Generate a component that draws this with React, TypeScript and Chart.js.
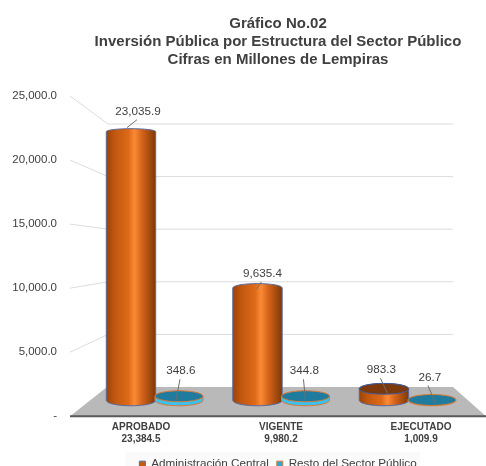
import React, { useEffect, useRef } from "react";
import { Chart, registerables } from "chart.js";

Chart.register(...registerables);

const titleLines = [
  "Gráfico No.02",
  "Inversión Pública por Estructura del Sector Público",
  "Cifras en Millones de Lempiras",
];
const categories = ["APROBADO", "VIGENTE", "EJECUTADO"];
const totals = ["23,384.5", "9,980.2", "1,009.9"];
const groupIndex = [0, 1, 2];
const adminCentral = [23035.9, 9635.4, 983.3];
const restoSector = [348.6, 344.8, 26.7];
const seriesNames = ["Administración Central", "Resto del Sector Público"];
const wallTicks = [5000, 10000, 15000, 20000, 25000];

const FONT = "'Liberation Sans', Arial, sans-serif";
const TEXT = "#404040";

// label placement relative to each bar's top: [text dx, text dy, leader start dx, dy, leader end dx, dy]
const leaderOffsets = [
  [
    [7, -20, 6, -12, -4, -4],
    [5, -14, 4, -6, -1, 1],
    [-2.5, -19.5, -3.5, -10.5, 3.5, 4.5],
  ],
  [
    [2, -25, 1, -17, -3, 4],
    [-1, -25, -2, -17, 0, 4],
    [-2, -22.5, -4, -14.5, 4, 4.5],
  ],
];

function fmt(v: number) {
  return v.toLocaleString("en-US", { minimumFractionDigits: 1, maximumFractionDigits: 1 });
}

function ellipse(ctx: CanvasRenderingContext2D, x: number, y: number, rx: number, ry: number) {
  ctx.beginPath();
  ctx.ellipse(x, y, rx, ry, 0, 0, Math.PI * 2);
}

const scene = {
  id: "scene",
  afterLayout(chart: any) {
    chart.titleBlock.left = chart.chartArea.left;
    chart.titleBlock.right = chart.chartArea.right;
    chart.legend.left = 70;
    chart.legend.right = 486;
  },
  beforeDraw(chart: any) {
    const ctx = chart.ctx;
    ctx.save();
    ctx.fillStyle = "#fafafa";
    ctx.fillRect(125, 452, 295, 20);
    ctx.restore();
  },
  beforeDatasetsDraw(chart: any) {
    const { ctx, chartArea: a } = chart;
    const y = chart.scales.y;
    const floorBack = 387;
    const floorFront = y.getPixelForValue(0);
    const backTop = 124;
    const kWall = (floorBack - backTop) / (floorFront - y.getPixelForValue(25000));
    ctx.save();
    ctx.strokeStyle = "#dcdcdc";
    ctx.lineWidth = 1;
    wallTicks.forEach((v) => {
      const fy = y.getPixelForValue(v);
      const by = floorBack - (floorFront - fy) * kWall;
      ctx.beginPath();
      ctx.moveTo(a.left, fy);
      ctx.lineTo(108, by);
      ctx.lineTo(453, by);
      ctx.stroke();
    });
    ctx.fillStyle = "#b9b9b9";
    ctx.beginPath();
    ctx.moveTo(a.left, floorFront);
    ctx.lineTo(107, floorBack);
    ctx.lineTo(453, floorBack);
    ctx.lineTo(a.right, floorFront);
    ctx.closePath();
    ctx.fill();
    ctx.strokeStyle = "#5a5a5a";
    ctx.lineWidth = 2;
    ctx.beginPath();
    ctx.moveTo(a.left, floorFront);
    ctx.lineTo(a.right, floorFront);
    ctx.stroke();
    ctx.restore();
  },
  afterDatasetsDraw(chart: any) {
    const ctx: CanvasRenderingContext2D = chart.ctx;
    ctx.save();
    chart.data.datasets.forEach((ds: any, d: number) => {
      chart.getDatasetMeta(d).data.forEach((el: any, i: number) => {
        const value = ds.data[i].y;
        const rx = d === 0 ? 24.7 : 24;
        const cx = el.x;
        const topY = el.y;
        const baseY = el.base;
        const ryBase = 5.5;
        const ryTop = Math.max(3, 5.5 - value * 0.00012);
        if (d === 0) {
          const g = ctx.createLinearGradient(cx - rx, 0, cx + rx, 0);
          g.addColorStop(0, "#9c4408");
          g.addColorStop(0.18, "#c25810");
          g.addColorStop(0.45, "#de6a18");
          g.addColorStop(0.57, "#fb8a36");
          g.addColorStop(0.72, "#d6641a");
          g.addColorStop(1, "#7e3908");
          ctx.fillStyle = g;
          ctx.beginPath();
          ctx.moveTo(cx - rx, topY);
          ctx.lineTo(cx - rx, baseY);
          ctx.ellipse(cx, baseY, rx, ryBase, 0, Math.PI, 0, true);
          ctx.lineTo(cx + rx, topY);
          ctx.ellipse(cx, topY, rx, ryTop, 0, 0, Math.PI, true);
          ctx.closePath();
          ctx.fill();
          ctx.strokeStyle = "#5a6a9c";
          ctx.lineWidth = 1;
          ctx.stroke();
          if (value < 5000) {
            ctx.fillStyle = "#7c3a0c";
            ellipse(ctx, cx, topY, rx, ryTop);
            ctx.fill();
            ctx.strokeStyle = "#3c5aa0";
            ctx.stroke();
          }
        } else {
          ctx.strokeStyle = "#d97a35";
          ctx.lineWidth = 1;
          ctx.fillStyle = "#3cc0ee";
          ctx.beginPath();
          ctx.moveTo(cx - rx, topY);
          ctx.lineTo(cx - rx, baseY);
          ctx.ellipse(cx, baseY, rx, ryBase, 0, Math.PI, 0, true);
          ctx.lineTo(cx + rx, topY);
          ctx.closePath();
          ctx.fill();
          ctx.stroke();
          ctx.fillStyle = "#1f7c9e";
          ellipse(ctx, cx, topY, rx, ryBase);
          ctx.fill();
          ctx.stroke();
        }
      });
    });
    ctx.font = `11.7px ${FONT}`;
    ctx.textAlign = "center";
    ctx.textBaseline = "middle";
    chart.data.datasets.forEach((ds: any, d: number) => {
      chart.getDatasetMeta(d).data.forEach((el: any, i: number) => {
        const [tx, ty, sx, sy, ex, ey] = leaderOffsets[d][i];
        ctx.strokeStyle = "#6e6e6e";
        ctx.lineWidth = 1;
        ctx.beginPath();
        ctx.moveTo(el.x + sx, el.y + sy);
        ctx.lineTo(el.x + ex, el.y + ey);
        ctx.stroke();
        ctx.fillStyle = TEXT;
        ctx.fillText(fmt(ds.data[i].y), el.x + tx, el.y + ty);
      });
    });
    ctx.restore();
  },
};

export default function App() {
  const ref = useRef<HTMLCanvasElement>(null);
  useEffect(() => {
    const chart = new Chart(ref.current as HTMLCanvasElement, {
      type: "bar",
      data: {
        datasets: [
          {
            label: seriesNames[0],
            data: groupIndex.map((x, i) => ({ x, y: adminCentral[i] })),
            backgroundColor: "#c55a11",
            borderColor: "#4a6fa5",
            borderWidth: 1,
            barThickness: 48,
            xAxisID: "xBar",
            yAxisID: "yBar",
          },
          {
            label: seriesNames[1],
            data: groupIndex.map((x, i) => ({ x, y: restoSector[i] })),
            backgroundColor: "#29a9d6",
            borderColor: "#d97a35",
            borderWidth: 1,
            barThickness: 48,
            xAxisID: "xBar",
            yAxisID: "yBar",
          },
        ],
      } as any,
      plugins: [scene],
      options: {
        responsive: false,
        animation: false,
        layout: { padding: 0 },
        plugins: {
          tooltip: { enabled: false },
          title: {
            display: true,
            text: titleLines,
            fullSize: false,
            color: TEXT,
            font: { family: FONT, size: 15, weight: "bold", lineHeight: 1.2 },
            padding: { top: 15, bottom: 27 },
          },
          legend: {
            display: true,
            position: "bottom",
            fullSize: false,
            labels: {
              boxWidth: 6,
              boxHeight: 6,
              padding: 8,
              color: TEXT,
              font: { family: FONT, size: 11.7 },
            },
          },
        },
        scales: {
          x: {
            type: "linear",
            position: "bottom",
            min: -0.507,
            max: 2.464,
            offset: false,
            grid: { display: false, drawTicks: false },
            border: { display: false },
            afterBuildTicks: (axis: any) => {
              axis.ticks = groupIndex.map((value) => ({ value }));
            },
            afterFit: (axis: any) => {
              axis.height = 34;
            },
            ticks: {
              autoSkip: false,
              maxRotation: 0,
              padding: 5,
              color: TEXT,
              font: { family: FONT, size: 10, weight: "bold", lineHeight: 1.2 },
              callback: (v: any) => [categories[v], totals[v]],
            },
          },
          xBar: {
            type: "linear",
            axis: "x",
            display: false,
            offset: false,
            min: -0.672,
            max: 2.617,
          },
          y: {
            type: "linear",
            position: "left",
            min: 0,
            max: 25000,
            grid: { display: false, drawTicks: false },
            border: { display: false },
            afterFit: (axis: any) => {
              axis.width = 70;
            },
            ticks: {
              stepSize: 5000,
              padding: 13,
              color: TEXT,
              font: { family: FONT, size: 11.5 },
              callback: (v: any) => (v === 0 ? "-" : fmt(v)),
            },
          },
          yBar: {
            type: "linear",
            axis: "y",
            display: false,
            min: -1373,
            max: 26095,
          },
        },
      } as any,
    });
    return () => chart.destroy();
  }, []);
  return (
    <div style={{ position: "absolute", left: 0, top: 0, width: 486, height: 466, overflow: "hidden", background: "#fff" }}>
      <canvas ref={ref} width={486} height={480} style={{ display: "block", width: 486, height: 480 }} />
    </div>
  );
}
